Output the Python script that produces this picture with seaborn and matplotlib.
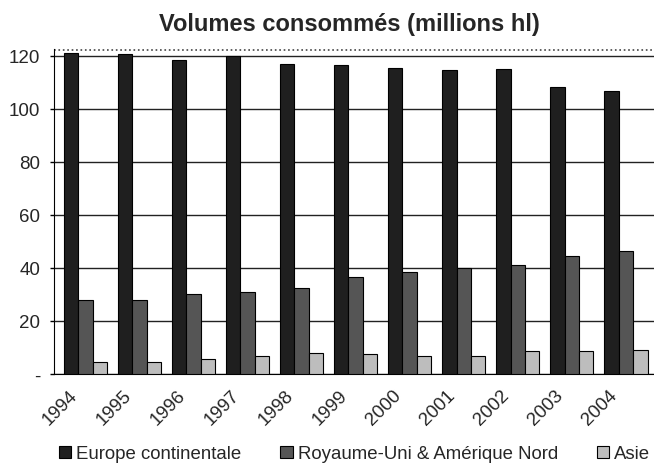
import matplotlib
matplotlib.use("Agg")
import matplotlib.pyplot as plt
import matplotlib.transforms as mtransforms
from matplotlib.patches import Patch
import seaborn as sns
import pandas as pd

years = ["1994", "1995", "1996", "1997", "1998", "1999", "2000", "2001", "2002", "2003", "2004"]
europe = [121, 120.5, 118.5, 120, 117, 116.5, 115.5, 114.5, 115, 108, 106.5]
uk_na = [28, 28, 30, 31, 32.5, 36.5, 38.3, 40, 41, 44.5, 46.5]
asie = [4.5, 4.5, 5.5, 6.8, 7.8, 7.5, 6.8, 6.8, 8.5, 8.7, 9.2]
series = ["Europe continentale", "Royaume-Uni & Amérique Nord", "Asie"]
colors = ["#1f1f1f", "#555555", "#bdbdbd"]

rows = []
for s, vals in zip(series, [europe, uk_na, asie]):
    for y, v in zip(years, vals):
        rows.append({"Année": y, "Série": s, "Valeur": v})
df = pd.DataFrame(rows)

sns.set_style("white")
plt.rcParams["font.family"] = ["Liberation Sans", "DejaVu Sans"]

fig = plt.figure(figsize=(6.54, 4.64), dpi=100)
ax = fig.add_axes([54 / 654, 89 / 464, (654 - 54) / 654, (414 - 89) / 464])

sns.barplot(data=df, x="Année", y="Valeur", hue="Série", palette=colors,
            width=0.8, edgecolor="black", linewidth=0.8, ax=ax, legend=False,
            errorbar=None, zorder=3)

ax.set_ylim(0, 122.5)
ax.set_xlim(-0.58, 10.52)
ax.set_yticks([0, 20, 40, 60, 80, 100, 120])
ax.set_yticklabels(["-", "20", "40", "60", "80", "100", "120"], fontsize=13.5)
ax.set_xlabel("")
ax.set_ylabel("")
ax.yaxis.grid(True, color="#222222", linewidth=1.0, zorder=0)
ax.tick_params(axis="y", length=3, width=1, color="black", left=True, pad=7)
ax.tick_params(axis="x", length=0, pad=9)

offset = mtransforms.ScaledTranslation(-17 / 100, 0, fig.dpi_scale_trans)
for lbl in ax.get_xticklabels():
    lbl.set_rotation(45)
    lbl.set_ha("right")
    lbl.set_va("top")
    lbl.set_fontsize(13.5)
    lbl.set_rotation_mode("anchor")
    lbl.set_transform(lbl.get_transform() + offset)

for side in ["top", "right"]:
    ax.spines[side].set_visible(False)
ax.spines["left"].set_color("black")
ax.spines["bottom"].set_color("black")
ax.axhline(122.3, color="#444444", linestyle=":", linewidth=1.2, zorder=1)

fig.suptitle("Volumes consommés (millions hl)", x=349 / 654, y=1 - 25 / 464,
             va="center", fontsize=17, fontweight="bold")

handles = [Patch(facecolor=c, edgecolor="black", linewidth=0.8) for c in colors]
fig.legend(handles, series, loc="center left", bbox_to_anchor=(59 / 654, 9 / 464),
           ncol=3, frameon=False, fontsize=13.4, handlelength=0.65, handleheight=0.65,
           handletextpad=0.27, columnspacing=2.1, borderpad=0, borderaxespad=0)

fig.savefig("out.png", dpi=100)
